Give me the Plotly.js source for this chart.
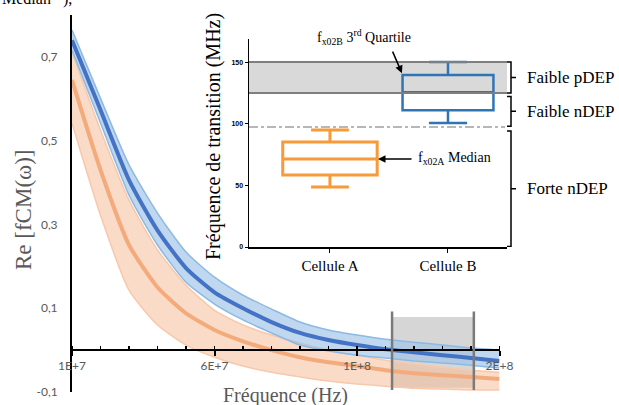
<!DOCTYPE html>
<html><head><meta charset="utf-8">
<script src="https://cdn.plot.ly/plotly-3.0.1.min.js"></script>
<style>html,body{margin:0;padding:0;background:#fff}#chart{width:619px;height:405px}</style>
</head><body><div id="chart"></div>
<script>
// ---- main chart data ----
const xIdx = [0,1,2,3,4,5,6,7,8,9,10,11,12,13,14,15];
const xTickVals = [0,5,10,15];
const xTickText = ['1E+7','6E+7','1E+8','2E+8'];
const yTickVals = [0.7,0.5,0.3,0.1,-0.1];
const yTickText = ['0,7','0,5','0,3','0,1','-0,1'];

const blueMid   = [0.740,0.573,0.406,0.286,0.196,0.138,0.100,0.067,0.041,0.024,0.012,0.002,-0.005,-0.012,-0.019,-0.026];
const blueUpper = [0.764,0.601,0.442,0.327,0.234,0.174,0.131,0.098,0.067,0.048,0.036,0.026,0.019,0.012,0.005,0.000];
const blueLower = [0.716,0.542,0.370,0.251,0.162,0.110,0.072,0.041,0.012,-0.002,-0.012,-0.019,-0.026,-0.031,-0.036,-0.043];

const orangeMid   = [0.645,0.430,0.251,0.150,0.088,0.048,0.021,0.000,-0.017,-0.029,-0.038,-0.048,-0.055,-0.060,-0.064,-0.069];
const orangeUpper = [0.711,0.525,0.358,0.239,0.155,0.095,0.060,0.036,0.017,0.000,-0.012,-0.024,-0.033,-0.041,-0.048,-0.053];
const orangeLower = [0.542,0.322,0.143,0.060,0.012,-0.017,-0.038,-0.053,-0.064,-0.074,-0.081,-0.086,-0.091,-0.093,-0.095,-0.095];

const greyZoneX = [11.23, 14.1];
const greyZoneY = [-0.090, 0.079];
const greyLineY = [-0.095, 0.092];

// ---- inset box plot data ----
const cells = ['Cellule A','Cellule B'];
const boxQ1 = [58.4, 111];
const boxMedian = [71.4, 125.5];
const boxQ3 = [85.2, 139.5];
const boxLow = [48.7, 100.5];
const boxHigh = [94.9, 150];
const insetTickVals = [0,50,100,150];
const pDepBand = [125, 150];
const nDepLimit = 97.3;
const bracketPDep = [125, 150];
const bracketNDepWeak = [98, 122];
const bracketNDepStrong = [0.5, 94];

const W = 619, H = 405;
const px = v => v / W;
const py = v => 1 - v / H;

const serif = 'Liberation Serif';
const blueFill = 'rgba(157,195,230,0.65)';
const blueEdge = 'rgba(140,185,228,1)';
const orFill = 'rgba(246,190,155,0.55)';
const orEdge = 'rgba(248,200,170,1)';

const traces = [
  {x:xIdx, y:orangeUpper, type:'scatter', mode:'lines', line:{color:orEdge,width:1.5,shape:'spline',smoothing:0.6}, hoverinfo:'skip', showlegend:false},
  {x:xIdx, y:orangeLower, type:'scatter', mode:'lines', fill:'tonexty', fillcolor:orFill, line:{color:orEdge,width:1.5,shape:'spline',smoothing:0.6}, hoverinfo:'skip', showlegend:false},
  {x:xIdx, y:orangeMid, type:'scatter', mode:'lines', line:{color:'#f4ab7c',width:4,shape:'spline',smoothing:0.6}, showlegend:false},
  {x:xIdx, y:blueUpper, type:'scatter', mode:'lines', line:{color:blueEdge,width:1.5,shape:'spline',smoothing:0.6}, hoverinfo:'skip', showlegend:false},
  {x:xIdx, y:blueLower, type:'scatter', mode:'lines', fill:'tonexty', fillcolor:blueFill, line:{color:blueEdge,width:1.5,shape:'spline',smoothing:0.6}, hoverinfo:'skip', showlegend:false},
  {x:xIdx, y:blueMid, type:'scatter', mode:'lines', line:{color:'#4472c4',width:4,shape:'spline',smoothing:0.6}, showlegend:false},
  {type:'box', xaxis:'x2', yaxis:'y2', x:[cells[0]], q1:[boxQ1[0]], median:[boxMedian[0]], q3:[boxQ3[0]], lowerfence:[boxLow[0]], upperfence:[boxHigh[0]],
   width:0.8, whiskerwidth:0.4, line:{color:'#f79a38',width:3}, fillcolor:'rgba(0,0,0,0)', showlegend:false},
  {type:'box', xaxis:'x2', yaxis:'y2', x:[cells[1]], q1:[boxQ1[1]], median:[boxMedian[1]], q3:[boxQ3[1]], lowerfence:[boxLow[1]], upperfence:[boxHigh[1]],
   width:0.77, whiskerwidth:0.42, line:{color:'#2e75b6',width:2.5}, fillcolor:'rgba(0,0,0,0)', showlegend:false}
];

function bracket(r){
  const x0 = px(507), x1 = px(511), x2 = px(516);
  const m = (r[0]+r[1])/2;
  return {type:'path', xref:'paper', yref:'y2', line:{color:'#000',width:1.5},
    path:`M ${x0} ${r[1]} L ${x1} ${r[1]} L ${x1} ${r[0]} L ${x0} ${r[0]} M ${x1} ${m} L ${x2} ${m}`};
}

const shapes = [
  {type:'rect', xref:'x', yref:'y', x0:greyZoneX[0], x1:greyZoneX[1], y0:greyZoneY[0], y1:greyZoneY[1], fillcolor:'#d6d6d6', line:{width:0}, layer:'below'},
  {type:'line', xref:'x', yref:'y', x0:greyZoneX[0], x1:greyZoneX[0], y0:greyLineY[0], y1:greyLineY[1], line:{color:'#7a7a7a',width:2.5}},
  {type:'line', xref:'x', yref:'y', x0:greyZoneX[1], x1:greyZoneX[1], y0:greyLineY[0], y1:greyLineY[1], line:{color:'#7a7a7a',width:2.5}},
  {type:'rect', xref:'paper', yref:'y2', x0:px(249), x1:px(507), y0:pDepBand[0], y1:pDepBand[1], fillcolor:'#d9d9d9', line:{width:0}, layer:'below'},
  {type:'line', xref:'paper', yref:'y2', x0:px(249), x1:px(507), y0:pDepBand[0], y1:pDepBand[0], line:{color:'#7f7f7f',width:2}},
  {type:'line', xref:'paper', yref:'y2', x0:px(249), x1:px(507), y0:pDepBand[1], y1:pDepBand[1], line:{color:'#7f7f7f',width:2}},
  {type:'line', xref:'paper', yref:'y2', x0:px(249), x1:px(505), y0:nDepLimit, y1:nDepLimit, line:{color:'#a0a0a0',width:1.5,dash:'dashdot'}},
  bracket(bracketPDep), bracket(bracketNDepWeak), bracket(bracketNDepStrong)
];

const annotations = [
  {xref:'paper', yref:'paper', x:px(23), y:py(210), xanchor:'center', yanchor:'middle', text:'Re [fCM(ω)]', textangle:-90, showarrow:false, font:{family:serif,size:23,color:'#595959'}},
  {xref:'paper', yref:'paper', x:px(285), y:py(395), xanchor:'center', yanchor:'middle', text:'Fréquence (Hz)', showarrow:false, font:{family:serif,size:20,color:'#595959'}},
  {xref:'paper', yref:'paper', x:px(213), y:py(137), xanchor:'center', yanchor:'middle', text:'Fréquence de transition (MHz)', textangle:-90, showarrow:false, font:{family:serif,size:20,color:'#000'}},
  {xref:'paper', yref:'paper', x:px(0), y:py(-1), yanchor:'middle', xanchor:'left', text:'Median   ),', showarrow:false, font:{family:serif,size:16,color:'#000'}},
  {xref:'paper', yref:'paper', x:px(364), y:py(49), xanchor:'center', yanchor:'bottom', text:'f<sub>x02B</sub> 3<sup>rd</sup> Quartile', showarrow:false, font:{family:serif,size:14,color:'#000'}},
  {xref:'x2', yref:'y2', x:0.61, y:141, text:'', showarrow:true, arrowhead:2, arrowsize:1, arrowwidth:1.5, arrowcolor:'#000', ax:-10, ay:-23},
  {xref:'paper', yref:'y2', x:px(416), y:boxMedian[0], xanchor:'left', yanchor:'middle', text:'f<sub>x02A</sub> Median', showarrow:false, font:{family:serif,size:14,color:'#000'}},
  {xref:'x2', yref:'y2', x:0.407, y:boxMedian[0], text:'', showarrow:true, arrowhead:2, arrowsize:1, arrowwidth:1.5, arrowcolor:'#000', ax:35, ay:0},
  {xref:'paper', yref:'y2', x:px(525), y:(bracketPDep[0]+bracketPDep[1])/2, xanchor:'left', yanchor:'middle', text:'Faible pDEP', showarrow:false, font:{family:serif,size:17,color:'#000'}},
  {xref:'paper', yref:'y2', x:px(525), y:(bracketNDepWeak[0]+bracketNDepWeak[1])/2, xanchor:'left', yanchor:'middle', text:'Faible nDEP', showarrow:false, font:{family:serif,size:17,color:'#000'}},
  {xref:'paper', yref:'y2', x:px(525), y:(bracketNDepStrong[0]+bracketNDepStrong[1])/2, xanchor:'left', yanchor:'middle', text:'Forte nDEP', showarrow:false, font:{family:serif,size:17,color:'#000'}}
];

const layout = {
  width:W, height:H, margin:{l:0,r:0,t:0,b:0},
  paper_bgcolor:'#fff', plot_bgcolor:'rgba(0,0,0,0)',
  showlegend:false,
  xaxis:{domain:[px(72), px(499.5)], range:[0,15], anchor:'free', position:py(350),
    showline:true, linecolor:'#000', linewidth:2, showgrid:false, zeroline:false,
    tickvals:xTickVals, ticktext:xTickText, ticks:'outside', ticklen:5, tickwidth:2, tickcolor:'#000',
    minor:{dtick:1, tick0:0, ticks:'inside', ticklen:3, tickwidth:1.5, tickcolor:'#000'},
    tickfont:{family:'Lato', size:12, color:'#595959'}},
  yaxis:{domain:[py(392), py(15)], range:[-0.1,0.8], anchor:'x',
    showline:true, linecolor:'#000', linewidth:2, showgrid:false, zeroline:false,
    tickvals:yTickVals, ticktext:yTickText, ticks:'outside', ticklen:10, tickcolor:'rgba(0,0,0,0)',
    tickfont:{family:'Lato', size:12, color:'#595959'}},
  xaxis2:{domain:[px(249), px(507)], anchor:'y2', type:'category', categoryorder:'array', categoryarray:cells,
    range:[-0.686, 1.5], showline:true, linecolor:'#000', linewidth:1.5, showgrid:false, zeroline:false,
    ticks:'outside', ticklen:4, tickcolor:'#000', tickfont:{family:serif, size:15, color:'#000'}},
  yaxis2:{domain:[py(247), py(39)], anchor:'x2', range:[0, 168.7],
    showline:true, linecolor:'#000', linewidth:1.5, showgrid:false, zeroline:false,
    tickvals:insetTickVals, ticks:'outside', ticklen:3, tickcolor:'#000',
    tickfont:{family:'Liberation Sans', size:7, color:'#000', weight:'bold'}},
  shapes:shapes, annotations:annotations
};

Plotly.newPlot('chart', traces, layout, {staticPlot:true, displayModeBar:false});
</script>
</body></html>
